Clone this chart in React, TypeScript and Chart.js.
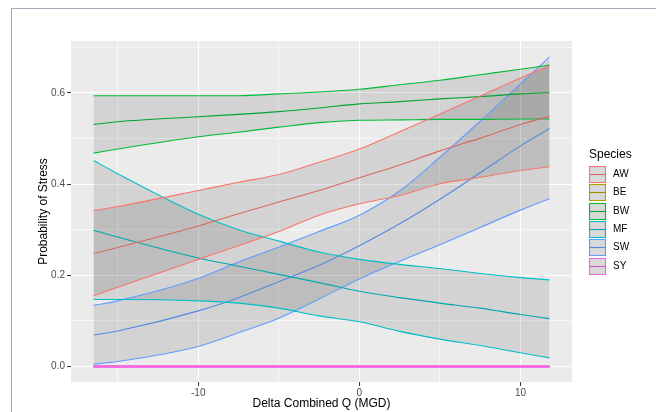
import React, { useEffect, useRef } from "react";
import { Chart, registerables } from "chart.js";

Chart.register(...registerables);

const FONT = '"Liberation Sans", Arial, Helvetica, sans-serif';

// x values (Delta Combined Q, MGD)
const deltaQ = [-16.5, -15, -10, -7.5, -5, -2.5, 0, 2.5, 5, 7.5, 10, 11.8];

const speciesNames = ["AW", "BE", "BW", "MF", "SW", "SY"];
const speciesColors = ["#F8766D", "#B79F00", "#00BA38", "#00BFC4", "#619CFF", "#F564E3"];

// Probability of stress: lower bound, fitted mean, upper bound
const awLower = [0.155, 0.174, 0.235, 0.265, 0.296, 0.332, 0.357, 0.375, 0.401, 0.415, 0.43, 0.438];
const awMean = [0.248, 0.261, 0.308, 0.335, 0.361, 0.386, 0.414, 0.442, 0.473, 0.501, 0.531, 0.549];
const awUpper = [0.342, 0.351, 0.386, 0.404, 0.421, 0.448, 0.477, 0.515, 0.554, 0.593, 0.633, 0.659];

const beLower = [0, 0, 0, 0, 0, 0, 0, 0, 0, 0, 0, 0];
const beMean = [0, 0, 0, 0, 0, 0, 0, 0, 0, 0, 0, 0];
const beUpper = [0, 0, 0, 0, 0, 0, 0, 0, 0, 0, 0, 0];

const bwLower = [0.468, 0.477, 0.504, 0.514, 0.525, 0.535, 0.54, 0.541, 0.542, 0.542, 0.543, 0.543];
const bwMean = [0.531, 0.537, 0.548, 0.553, 0.559, 0.567, 0.576, 0.581, 0.587, 0.592, 0.598, 0.601];
const bwUpper = [0.594, 0.594, 0.594, 0.594, 0.598, 0.602, 0.608, 0.618, 0.628, 0.64, 0.652, 0.661];

const mfLower = [0.147, 0.147, 0.144, 0.139, 0.128, 0.111, 0.098, 0.077, 0.06, 0.046, 0.03, 0.019];
const mfMean = [0.299, 0.284, 0.238, 0.22, 0.202, 0.184, 0.165, 0.151, 0.139, 0.128, 0.114, 0.105];
const mfUpper = [0.452, 0.423, 0.334, 0.3, 0.275, 0.251, 0.235, 0.224, 0.215, 0.204, 0.195, 0.19];

const swLower = [0.005, 0.011, 0.044, 0.074, 0.106, 0.148, 0.192, 0.231, 0.267, 0.305, 0.343, 0.368];
const swMean = [0.069, 0.078, 0.122, 0.151, 0.186, 0.222, 0.265, 0.313, 0.367, 0.425, 0.484, 0.522];
const swUpper = [0.134, 0.144, 0.193, 0.229, 0.262, 0.296, 0.332, 0.385, 0.459, 0.538, 0.62, 0.679];

const syLower = [0, 0, 0, 0, 0, 0, 0, 0, 0, 0, 0, 0];
const syMean = [0, 0, 0, 0, 0, 0, 0, 0, 0, 0, 0, 0];
const syUpper = [0, 0, 0, 0, 0, 0, 0, 0, 0, 0, 0, 0];

const xMajorTicks = [-10, 0, 10];
const xMinorTicks = [-15, -5, 5];
const yMajorTicks = [0, 0.2, 0.4, 0.6];
const yTickLabels = ["0.0", "0.2", "0.4", "0.6"];
const yMinorTicks = [0.1, 0.3, 0.5, 0.7];

const bands = [
  { lower: awLower, mean: awMean, upper: awUpper },
  { lower: beLower, mean: beMean, upper: beUpper },
  { lower: bwLower, mean: bwMean, upper: bwUpper },
  { lower: mfLower, mean: mfMean, upper: mfUpper },
  { lower: swLower, mean: swMean, upper: swUpper },
  { lower: syLower, mean: syMean, upper: syUpper },
];

const RIBBON = "rgba(0,0,0,0.1)";

function darken(hex: string, f: number) {
  const n = parseInt(hex.slice(1), 16);
  const r = Math.round(((n >> 16) & 255) * f);
  const g = Math.round(((n >> 8) & 255) * f);
  const b = Math.round((n & 255) * f);
  return `rgb(${r},${g},${b})`;
}

function pts(vals: number[]) {
  return vals.map((v, i) => ({ x: deltaQ[i], y: v }));
}

const bgPlugin = {
  id: "panelBg",
  beforeDraw(chart: any) {
    const { ctx, chartArea } = chart;
    ctx.save();
    ctx.fillStyle = "#EBEBEB";
    ctx.fillRect(chartArea.left, chartArea.top, chartArea.right - chartArea.left, chartArea.bottom - chartArea.top);
    ctx.restore();
  },
};

const legendPlugin = {
  id: "ggLegend",
  afterDraw(chart: any) {
    const ctx = chart.ctx;
    ctx.save();
    ctx.textBaseline = "middle";
    ctx.textAlign = "left";
    ctx.fillStyle = "#000000";
    ctx.font = `12px ${FONT}`;
    ctx.fillText("Species", 589, 155);
    speciesNames.forEach((name, i) => {
      const cy = 174.5 + i * 18.3;
      const x = 589;
      const y = Math.round(cy - 8.5);
      const w = 17;
      const h = 17;
      ctx.fillStyle = "#F2F2F2";
      ctx.fillRect(x, y, w, h);
      ctx.fillStyle = RIBBON;
      ctx.fillRect(x, y, w, h);
      ctx.strokeStyle = speciesColors[i];
      ctx.lineWidth = 1.1;
      ctx.strokeRect(x + 0.5, y + 0.5, w - 1, h - 1);
      ctx.strokeStyle = darken(speciesColors[i], 0.88);
      ctx.beginPath();
      ctx.moveTo(x + 1, y + h / 2);
      ctx.lineTo(x + w - 1, y + h / 2);
      ctx.stroke();
      ctx.fillStyle = "#000000";
      ctx.font = `10px ${FONT}`;
      ctx.fillText(name, 613, y + h / 2);
    });
    ctx.restore();
  },
};

export default function App() {
  const ref = useRef<HTMLCanvasElement | null>(null);

  useEffect(() => {
    if (!ref.current) return;
    const datasets: any[] = [];
    bands.forEach((b, i) => {
      const color = speciesColors[i];
      const isSY = speciesNames[i] === "SY";
      const order = isSY ? 0 : 1;
      const idx = datasets.length;
      const common = {
        pointRadius: 0,
        pointHoverRadius: 0,
        borderWidth: isSY ? 1.8 : 1.1,
        cubicInterpolationMode: "monotone",
        order,
      };
      datasets.push({ ...common, label: `${speciesNames[i]} lower`, data: pts(b.lower), borderColor: color, fill: false });
      datasets.push({
        ...common,
        label: `${speciesNames[i]} upper`,
        data: pts(b.upper),
        borderColor: color,
        backgroundColor: RIBBON,
        fill: idx,
      });
      datasets.push({ ...common, label: `${speciesNames[i]}`, data: pts(b.mean), borderColor: isSY ? color : darken(color, 0.88), fill: false });
    });

    const isMajorX = (v: number) => xMajorTicks.includes(v);
    const isMajorY = (v: number) => yMajorTicks.some((t) => Math.abs(t - v) < 1e-9);

    const chart = new Chart(ref.current, {
      type: "line",
      data: { datasets },
      plugins: [bgPlugin, legendPlugin],
      options: {
        responsive: false,
        animation: false,
        devicePixelRatio: 1,
        events: [],
        layout: { padding: { left: 0, top: 41, right: 84, bottom: 0 } },
        plugins: {
          legend: { display: false },
          tooltip: { enabled: false },
          filler: { drawTime: "beforeDatasetsDraw", propagate: false },
        },
        scales: {
          x: {
            type: "linear",
            min: -17.9,
            max: 13.2,
            afterBuildTicks: (s: any) => {
              s.ticks = [...xMinorTicks, ...xMajorTicks].sort((a, b) => a - b).map((v) => ({ value: v }));
            },
            afterFit: (s: any) => {
              s.height = 30;
            },
            ticks: {
              autoSkip: false,
              maxRotation: 0,
              padding: 1,
              color: "#4D4D4D",
              font: { family: FONT, size: 10 },
              callback: (v: any) => (isMajorX(Number(v)) ? String(v) : ""),
            },
            grid: {
              color: "#FFFFFF",
              lineWidth: (c: any) => (c.tick && isMajorX(c.tick.value) ? 1.1 : 0.55),
              tickColor: (c: any) => (c.tick && isMajorX(c.tick.value) ? "#333333" : "rgba(0,0,0,0)"),
              tickWidth: 1,
              tickLength: 4,
            },
            border: { display: false },
            title: {
              display: true,
              text: "Delta Combined Q (MGD)",
              color: "#000000",
              font: { family: FONT, size: 12 },
              padding: { top: 0, bottom: 1 },
            },
          },
          y: {
            type: "linear",
            min: -0.034,
            max: 0.714,
            afterBuildTicks: (s: any) => {
              s.ticks = [...yMajorTicks, ...yMinorTicks].sort((a, b) => a - b).map((v) => ({ value: v }));
            },
            afterFit: (s: any) => {
              s.width = 71;
            },
            ticks: {
              autoSkip: false,
              padding: 2,
              color: "#4D4D4D",
              font: { family: FONT, size: 10 },
              callback: (v: any) => {
                const k = yMajorTicks.findIndex((t) => Math.abs(t - Number(v)) < 1e-9);
                return k >= 0 ? yTickLabels[k] : "";
              },
            },
            grid: {
              color: "#FFFFFF",
              lineWidth: (c: any) => (c.tick && isMajorY(c.tick.value) ? 1.1 : 0.55),
              tickColor: (c: any) => (c.tick && isMajorY(c.tick.value) ? "#333333" : "rgba(0,0,0,0)"),
              tickWidth: 1,
              tickLength: 4,
            },
            border: { display: false },
            title: {
              display: true,
              text: "Probability of Stress",
              color: "#000000",
              font: { family: FONT, size: 12 },
              padding: { top: 36, bottom: 0 },
            },
          },
        },
      } as any,
    } as any);
    return () => chart.destroy();
  }, []);

  return (
    <div style={{ position: "absolute", left: 0, top: 0, width: 656, height: 412, background: "#FFFFFF", overflow: "hidden" }}>
      <div
        style={{
          position: "absolute",
          left: 11,
          top: 8,
          width: 645,
          height: 404,
          borderLeft: "1px solid #A3AAB8",
          borderTop: "1px solid #A3AAB8",
          boxSizing: "border-box",
        }}
      />
      <canvas ref={ref} width={656} height={412} style={{ position: "absolute", left: 0, top: 0, width: 656, height: 412 }} />
    </div>
  );
}
